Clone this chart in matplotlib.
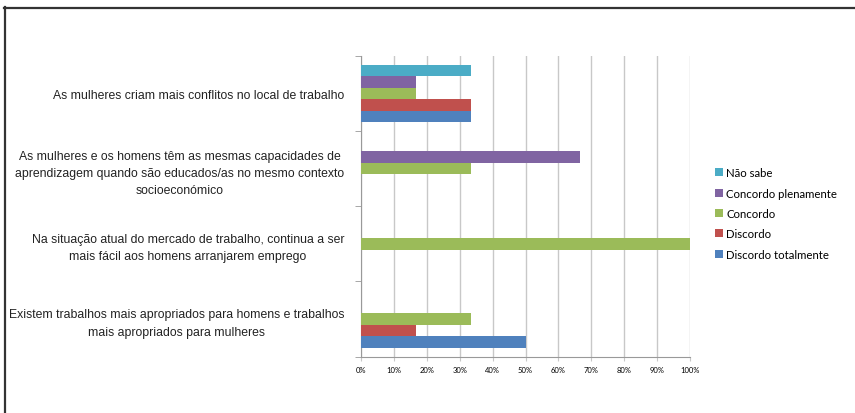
import matplotlib.pyplot as plt
from matplotlib.lines import Line2D
import numpy as np

# category labels, bottom to top as drawn
categories = [
    "Existem trabalhos mais apropriados para homens e trabalhos\nmais apropriados para mulheres",
    "Na situação atual do mercado de trabalho, continua a ser\nmais fácil aos homens arranjarem emprego",
    "As mulheres e os homens têm as mesmas capacidades de\naprendizagem quando são educados/as no mesmo contexto\nsocioeconómico",
    "As mulheres criam mais conflitos no local de trabalho",
]

series_names = ["Discordo totalmente", "Discordo", "Concordo", "Concordo plenamente", "Não sabe"]
discordo_totalmente = [50.0, 0, 0, 33.3]
discordo = [16.7, 0, 0, 33.3]
concordo = [33.3, 100.0, 33.3, 16.7]
concordo_plenamente = [0, 0, 66.7, 16.7]
nao_sabe = [0, 0, 0, 33.3]
series_values = [discordo_totalmente, discordo, concordo, concordo_plenamente, nao_sabe]
colors = ["#4F81BD", "#C0504D", "#9BBB59", "#8064A2", "#4BACC6"]

fig = plt.figure(figsize=(8.55, 4.14), dpi=100)
ax = fig.add_axes([361 / 855, 1 - 357.5 / 414, 329 / 855, 300.5 / 414])

y = np.arange(len(categories))
h = 1 / 6.5
for i, (name, vals, c) in enumerate(zip(series_names, series_values, colors)):
    ax.barh(y + (i - 2) * h, vals, height=h, color=c, label=name, zorder=3)

ax.set_xlim(0, 100)
ax.set_ylim(-0.5, len(categories) - 0.5)
ax.set_xticks(np.arange(0, 101, 10))
ax.set_xticklabels([f"{v}%" for v in range(0, 101, 10)], fontsize=5.5, family="Lato")
ax.grid(axis="x", color="#c8c8c8", lw=1, zorder=0)

ax.set_yticks(y)
ax.set_yticklabels(categories, fontsize=8.8, family="Liberation Sans", color="#222222",
                   ha="right", multialignment="center", linespacing=1.57)
ax.set_yticks(np.arange(-0.5, len(categories), 1), minor=True)
ax.tick_params(axis="y", which="major", length=0, pad=12)
ax.tick_params(axis="y", which="minor", length=4, color="#999999", direction="out")
ax.tick_params(axis="x", length=3, color="#c8c8c8", pad=4)

for s in ["top", "right"]:
    ax.spines[s].set_visible(False)
ax.spines["left"].set_color("#999999")
ax.spines["bottom"].set_color("#999999")

handles, labels = ax.get_legend_handles_labels()
leg = fig.legend(handles[::-1], labels[::-1], loc="upper left",
                 bbox_to_anchor=(705 / 855, 1 - 158 / 414), frameon=False,
                 prop={"family": "Lato", "size": 8.2}, handlelength=0.7,
                 handleheight=0.7, handletextpad=0.25, labelspacing=0.82)

# outer frame (only left and top edges visible)
fig.add_artist(Line2D([4.5 / 855, 4.5 / 855], [0, 1 - 8 / 414], color="#333333", lw=1.6))
fig.add_artist(Line2D([4 / 855, 1], [1 - 8.5 / 414, 1 - 8.5 / 414], color="#333333", lw=1.6))

fig.savefig("out.png", dpi=100)
